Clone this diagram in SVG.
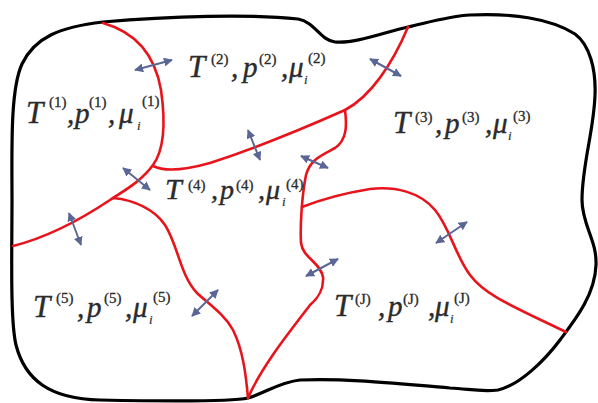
<svg xmlns="http://www.w3.org/2000/svg" width="598" height="403" viewBox="0 0 598 403">
<style>
.bd{fill:none;stroke:#000;stroke-width:3.2;stroke-linejoin:round}
.if{fill:none;stroke:#e8141c;stroke-width:2.6;stroke-linecap:round;stroke-linejoin:round}
.ar{fill:none;stroke:#5a6796;stroke-width:2;marker-start:url(#ah);marker-end:url(#ah)}
.m{font-family:"Liberation Serif","Times New Roman",serif;font-style:italic;font-size:29px;fill:#2b2b2b;stroke:#2b2b2b;stroke-width:0.4}
.t{font-size:31px}
.s{font-style:normal;font-size:15px;stroke-width:0.3}
.sub{font-size:13px;stroke-width:0.2}
#region4 .m{font-size:28px}
#region4 .t{font-size:30px}
#region4 .s{font-size:15px}
#region4 .sub{font-size:13px}
</style>
<defs>
<marker id="ah" viewBox="0 0 10 10" refX="9" refY="5" markerWidth="4.5" markerHeight="4.5" orient="auto-start-reverse" markerUnits="strokeWidth">
<path d="M0,0 L10,5 L0,10 Z" fill="#5a6796"/>
</marker>
</defs>
<rect width="598" height="403" fill="#fff"/>
<g id="boundary">
<path class="bd" d="M103,22 C170,16 250,14 298,19 C315,22 320,40 335,42 C355,44 385,32 408,27 C430,22 450,16 470,15 C510,13 550,18 575,34 C590,45 596,70 595,95 C594,130 582,165 582,200 C582,225 597,240 596,265 C595,295 575,320 560,340 C545,360 520,385 498,390 C480,392 470,389 450,388 C400,384 350,378 300,380 C280,382 265,393 248,398 C230,402 150,401 100,400 C50,399 25,380 16,345 C10,320 12,250 12,200 C12,150 10,90 22,64 C35,37 60,27 103,22 Z"/>
</g>
<g id="interfaces">
<path class="if" d="M103,23 C135,32 155,55 161,90 C166,125 164,150 153,165 C140,183 120,193 110,200 C80,220 45,238 13,246"/>
<path class="if" d="M153,166 C165,172 185,170 210,163 C250,150 300,130 345,110 C370,97 392,65 408,27"/>
<path class="if" d="M345,110 C347,125 347,140 335,148 C320,156 310,160 306,175 C302,195 300,225 301,243 C303,258 320,262 323,277 C324,290 318,298 310,305 C295,325 262,365 248,398"/>
<path class="if" d="M302,207 C320,200 345,193 370,189 C395,186 420,192 435,210 C450,228 455,255 470,275 C485,295 510,305 566,332"/>
<path class="if" d="M113,198 C135,200 155,210 165,225 C178,245 180,275 197,293 C210,305 225,315 233,330 C243,350 246,375 248,398"/>
</g>
<g id="connectors">
<line class="ar" x1="135" y1="70" x2="172" y2="60"/>
<line class="ar" x1="248" y1="130" x2="260" y2="160"/>
<line class="ar" x1="123" y1="168" x2="150" y2="190"/>
<line class="ar" x1="69" y1="213" x2="81" y2="245"/>
<line class="ar" x1="370" y1="59" x2="401" y2="76"/>
<line class="ar" x1="301" y1="156" x2="328" y2="168"/>
<line class="ar" x1="436" y1="243" x2="467" y2="222"/>
<line class="ar" x1="306" y1="276" x2="338" y2="259"/>
<line class="ar" x1="192" y1="316" x2="218" y2="290"/>
</g>
<g id="region1">
<text class="m"><tspan class="t" x="26" y="123">T</tspan><tspan class="s" x="49" y="107">(1)</tspan><tspan x="67" y="123">,</tspan><tspan x="75" y="123">p</tspan><tspan class="s" x="89" y="107">(1)</tspan><tspan x="108" y="123">,</tspan><tspan x="119" y="123">μ</tspan><tspan class="sub" x="137" y="130">i</tspan><tspan class="s" x="142" y="106">(1)</tspan></text>
</g>
<g id="region2">
<text class="m"><tspan class="t" x="188" y="77">T</tspan><tspan class="s" x="211" y="64">(2)</tspan><tspan x="231" y="77">,</tspan><tspan x="243" y="77">p</tspan><tspan class="s" x="259" y="64">(2)</tspan><tspan x="281" y="77">,</tspan><tspan x="289" y="77">μ</tspan><tspan class="sub" x="304" y="84">i</tspan><tspan class="s" x="308" y="63">(2)</tspan></text>
</g>
<g id="region3">
<text class="m"><tspan class="t" x="393" y="133">T</tspan><tspan class="s" x="415" y="122">(3)</tspan><tspan x="435" y="133">,</tspan><tspan x="445" y="133">p</tspan><tspan class="s" x="462" y="122">(3)</tspan><tspan x="485" y="133">,</tspan><tspan x="493" y="133">μ</tspan><tspan class="sub" x="508" y="140">i</tspan><tspan class="s" x="513" y="121">(3)</tspan></text>
</g>
<g id="region4">
<text class="m"><tspan class="t" x="165" y="199">T</tspan><tspan class="s" x="188" y="190">(4)</tspan><tspan x="211" y="199">,</tspan><tspan x="220" y="199">p</tspan><tspan class="s" x="236" y="190">(4)</tspan><tspan x="258" y="199">,</tspan><tspan x="266" y="199">μ</tspan><tspan class="sub" x="282" y="206">i</tspan><tspan class="s" x="286" y="189">(4)</tspan></text>
</g>
<g id="region5">
<text class="m"><tspan class="t" x="33" y="317">T</tspan><tspan class="s" x="56" y="303">(5)</tspan><tspan x="77" y="317">,</tspan><tspan x="87" y="317">p</tspan><tspan class="s" x="104" y="303">(5)</tspan><tspan x="125" y="317">,</tspan><tspan x="133" y="317">μ</tspan><tspan class="sub" x="149" y="324">i</tspan><tspan class="s" x="153" y="302">(5)</tspan></text>
</g>
<g id="regionJ">
<text class="m"><tspan class="t" x="334" y="316">T</tspan><tspan class="s" x="355" y="304">(J)</tspan><tspan x="378" y="316">,</tspan><tspan x="388" y="316">p</tspan><tspan class="s" x="403" y="304">(J)</tspan><tspan x="428" y="316">,</tspan><tspan x="435" y="316">μ</tspan><tspan class="sub" x="450" y="323">i</tspan><tspan class="s" x="454" y="303">(J)</tspan></text>
</g>
</svg>
